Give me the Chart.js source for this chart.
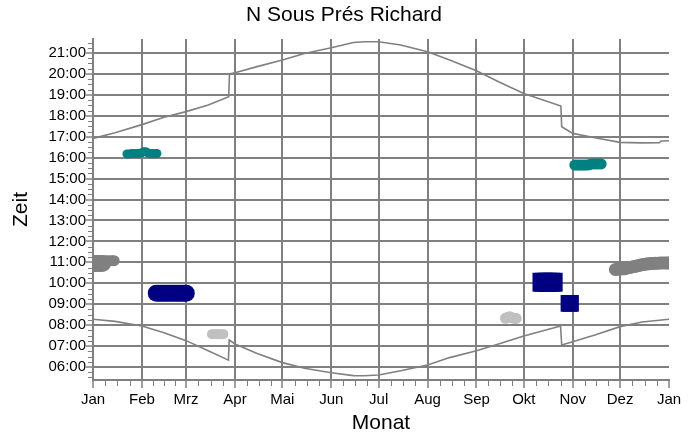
<!DOCTYPE html>
<html><head><meta charset="utf-8">
<script src="https://cdn.jsdelivr.net/npm/chart.js@4"></script>
<style>html,body{margin:0;padding:0;background:#fff}canvas{display:block}</style>
</head><body>
<canvas id="c" width="699" height="437"></canvas>
<script>
// ---- data (x = day of year, y = hour of day) ----
const monthLabels = ['Jan','Feb','Mrz','Apr','Mai','Jun','Jul','Aug','Sep','Okt','Nov','Dez','Jan'];
const monthStartDays = [0,31,59,90,120,151,181,212,243,273,304,334,365];
const hourTicks = [6,7,8,9,10,11,12,13,14,15,16,17,18,19,20,21];

const sunsetDays  = [0,14,31,45,59,73,86,86.5,90,104,120,134,151,165,172,181,195,212,226,243,257,273,296.5,297,304,318,334,348,359,360,365];
const sunsetHours = [16.92,17.19,17.58,17.93,18.20,18.52,18.91,20.00,20.06,20.35,20.67,20.98,21.25,21.50,21.54,21.54,21.38,21.06,20.67,20.15,19.63,19.07,18.47,17.48,17.16,16.95,16.73,16.71,16.72,16.80,16.81];

const sunriseDays  = [0,14,31,45,59,73,85.8,86.3,90,104,120,134,151,165,172,181,195,212,226,243,257,273,296.3,297,304,318,334,348,365];
const sunriseHours = [8.28,8.18,7.96,7.64,7.26,6.78,6.33,7.29,7.10,6.65,6.21,5.94,5.73,5.59,5.58,5.62,5.82,6.10,6.45,6.78,7.10,7.48,7.96,7.05,7.21,7.53,7.93,8.15,8.28];

const janGrayDays = [0,1.5,3,4.5,6];            const janGrayHours = [10.94,10.94,10.94,10.94,10.94];
const janGrayTipDays = [8,9.5,11,12.4,13.4];    const janGrayTipHours = [11.08,11.08,11.08,11.08,11.08];
const febTealDays  = [21.5,23,24.5,26,27.5,29,30.5,32,33.5,35,36.5,38,39.5,40.5];
const febTealHours = [16.18,16.18,16.20,16.20,16.20,16.20,16.22,16.28,16.28,16.22,16.20,16.20,16.20,16.20];
const febNavyDays  = [40.1,41.5,43,44.5,46,47.5,49,50.5,52,53.5,55,56.5,58,59.1];
const febNavyHours = [9.53,9.53,9.53,9.53,9.53,9.53,9.53,9.53,9.53,9.53,9.53,9.53,9.53,9.53];
const marSilverDays  = [75.4,76.8,78.2,79.6,81,82.6];
const marSilverHours = [7.57,7.57,7.57,7.57,7.57,7.57];
const sepSilverDays  = [261.4,262.8,264.2,265.6,267,268.2];
const sepSilverHours = [8.33,8.38,8.40,8.35,8.32,8.32];
const octNavyDays = [284.5,286,288,290,291.6];  const octNavyHours = [10.05,10.05,10.05,10.05,10.05];
const novNavyDays = [301.6,302.6];              const novNavyHours = [9.04,9.04];
const novTealDays  = [305.3,306.8,308.3,309.8,311.3,312.8,314.3,315.8,317.3,318.8,320.3,322];
const novTealHours = [15.65,15.65,15.65,15.65,15.65,15.65,15.66,15.70,15.70,15.70,15.70,15.70];
const decGrayDays  = [331,332.5,334,335.5,337,338.5,340,341.5,343,344.5,346,347.5,349,350.5,352,353.5,355,356.5,358,359.5,361,362.5,364,365.5];
const decGrayHours = [10.66,10.67,10.68,10.69,10.70,10.73,10.76,10.78,10.80,10.83,10.85,10.88,10.90,10.92,10.93,10.94,10.95,10.96,10.96,10.97,10.97,10.97,10.97,10.97];

const pts = (xs, ys) => xs.map((v, i) => ({x: v, y: ys[i]}));
const GRID = '#808080';
const FONT = 'Liberation Sans, Arial, Helvetica, sans-serif';

function curve(xs, ys) {
  return {type: 'scatter', data: pts(xs, ys), showLine: true, borderColor: GRID, borderWidth: 1.6,
          pointRadius: 0, pointHoverRadius: 0, fill: false};
}
function blob(xs, ys, color, radius, style) {
  return {type: 'scatter', data: pts(xs, ys), showLine: false, pointStyle: style || 'circle',
          pointRadius: radius, pointHoverRadius: radius, pointBackgroundColor: color,
          pointBorderColor: color, pointBorderWidth: 0, clip: 0};
}

const minorTicks = {
  id: 'minorTicks',
  afterDraw(chart) {
    const {ctx, chartArea} = chart;
    const x = chart.scales.x, y = chart.scales.y;
    ctx.save();
    ctx.strokeStyle = GRID;
    ctx.lineWidth = 1;
    ctx.beginPath();
    for (let i = 0; i < monthStartDays.length - 1; i++) {
      const a = monthStartDays[i], b = monthStartDays[i + 1];
      for (let k = 1; k < 4; k++) {
        const px = Math.round(x.getPixelForValue(a + (b - a) * k / 4)) + 0.5;
        ctx.moveTo(px, chartArea.bottom); ctx.lineTo(px, chartArea.bottom + 6);
      }
    }
    for (let q = Math.ceil(y.min * 4); q <= Math.floor(y.max * 4); q++) {
      if (q % 4 === 0) continue;
      const py = Math.round(y.getPixelForValue(q / 4)) + 0.5;
      ctx.moveTo(chartArea.left - 5, py); ctx.lineTo(chartArea.left, py);
    }
    ctx.stroke();
    ctx.restore();
  }
};

new Chart(document.getElementById('c'), {
  type: 'scatter',
  data: {
    datasets: [
      curve(sunsetDays, sunsetHours),
      curve(sunriseDays, sunriseHours),
      blob(janGrayDays, janGrayHours, '#808080', 8.5),
      blob(janGrayTipDays, janGrayTipHours, '#808080', 5.5),
      blob(febTealDays, febTealHours, '#008080', 4.5),
      blob(febNavyDays, febNavyHours, '#000080', 8.5),
      blob(marSilverDays, marSilverHours, '#c0c0c0', 5),
      blob(sepSilverDays, sepSilverHours, '#c0c0c0', 5.5),
      blob(octNavyDays, octNavyHours, '#000080', 13.4, 'rect'),
      blob(novNavyDays, novNavyHours, '#000080', 11.8, 'rect'),
      blob(novTealDays, novTealHours, '#008080', 5.5),
      blob(decGrayDays, decGrayHours, '#808080', 6.5)
    ]
  },
  options: {
    responsive: false,
    animation: false,
    devicePixelRatio: 1,
    layout: {padding: {left: 19, right: 30, top: 0, bottom: 0}},
    plugins: {
      legend: {display: false},
      tooltip: {enabled: false},
      title: {display: true, text: 'N Sous Prés Richard', color: '#000',
              font: {family: FONT, size: 21, weight: 'normal'}, padding: {top: 3, bottom: 10.8}}
    },
    scales: {
      x: {
        type: 'linear', min: 0, max: 365,
        afterBuildTicks: s => { s.ticks = monthStartDays.map(v => ({value: v})); },
        afterFit: s => { s.height = 57; },
        ticks: {autoSkip: false, maxRotation: 0, padding: 3, color: '#000',
                font: {family: FONT, size: 15},
                callback: (v, i) => monthLabels[i]},
        grid: {color: c => (c.tick && c.tick.value === 365) ? 'rgba(0,0,0,0)' : GRID,
               lineWidth: 2, tickColor: GRID, tickWidth: 1.5, tickLength: 8},
        border: {display: true, color: GRID, width: 2},
        title: {display: true, text: 'Monat', color: '#000', font: {family: FONT, size: 21},
                padding: {top: 0, bottom: 1.4}}
      },
      y: {
        type: 'linear', min: 5.38, max: 21.67,
        afterBuildTicks: s => { s.ticks = hourTicks.map(v => ({value: v})); },
        afterFit: s => { s.width = 74; },
        ticks: {autoSkip: false, padding: 0, color: '#000', font: {family: FONT, size: 15},
                callback: v => String(v).padStart(2, '0') + ':00'},
        grid: {color: GRID, lineWidth: 2, tickColor: GRID, tickWidth: 1.5, tickLength: 7},
        border: {display: true, color: GRID, width: 2},
        title: {display: true, text: 'Zeit', color: '#000', font: {family: FONT, size: 21},
                padding: {top: -10, bottom: 0}}
      }
    }
  },
  plugins: [minorTicks]
});
</script>
</body></html>
